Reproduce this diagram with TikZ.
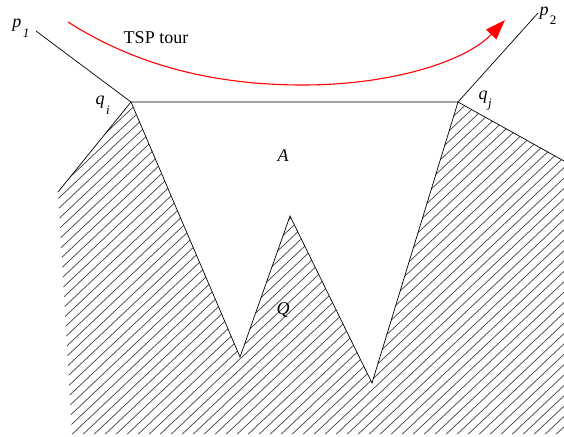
\documentclass[tikz,border=0pt]{standalone}
\usepackage{fontspec}
\setmainfont{Liberation Serif}
\usetikzlibrary{arrows.meta}
\begin{document}
\begin{tikzpicture}[x=1pt,y=-1pt,
  edge/.style={black,line width=0.7pt},
  hatch/.style={black!75,line width=0.7pt},
  lbl/.style={font=\fontsize{18}{20}\selectfont\itshape,inner sep=0pt},
  sub/.style={font=\fontsize{13}{14}\selectfont\itshape,inner sep=0pt},
  tour/.style={red,line width=1.1pt,-{Triangle[length=20pt,width=14pt]}}]
\useasboundingbox (0,0) rectangle (564,436);
% points
\coordinate (p1) at (36,31);
\coordinate (qi) at (131,102);
\coordinate (qj) at (458,102);
\coordinate (p2) at (538,13);
\coordinate (le) at (58,192);
\coordinate (lb) at (72,434);
\coordinate (v1) at (240,357);
\coordinate (pk) at (290,216);
\coordinate (v2) at (372,383);
\coordinate (re) at (564,161);
\coordinate (rb) at (564,434);
% hatching
\begin{scope}
\clip (le) -- (qi) -- (v1) -- (pk) -- (v2) -- (qj) -- (re) -- (rb) -- (lb) -- cycle;
\foreach \i in {-40,...,70} {
  \draw[hatch] (\i*11,440) -- ++(520,-490);
}
\end{scope}
% polygon edges
\draw[edge] (p1) -- (qi) -- (qj) -- (p2);
\draw[edge] (le) -- (qi) -- (v1) -- (pk) -- (v2) -- (qj) -- (re);
% tour
\coordinate (ts) at (68,22);
\coordinate (tm) at (303,85);
\coordinate (te) at (505,20);
\draw[tour] (ts) .. controls (140,68) and (220,85) .. (tm) .. controls (390,85) and (465,62) .. (te);
% labels
\node[lbl] (lp1) at (17,25) {p};
\node[sub] (lp1s) at (26,33) {1};
\node[lbl] (lp2) at (544,13) {p};
\node[sub,font=\fontsize{13}{14}\selectfont] (lp2s) at (553,20) {2};
\node[lbl] (lqi) at (100,102) {q};
\node[sub] (lqis) at (108,110) {i};
\node[lbl] (lqj) at (483,97) {q};
\node[sub] (lqjs) at (490,105) {j};
\node[lbl] (la) at (283,156) {A};
\node[lbl] (lq) at (283,310) {Q};
\node[inner sep=0pt,font=\fontsize{18}{20}\selectfont] (tsp) at (156,38) {TSP tour};
\end{tikzpicture}
\end{document}
